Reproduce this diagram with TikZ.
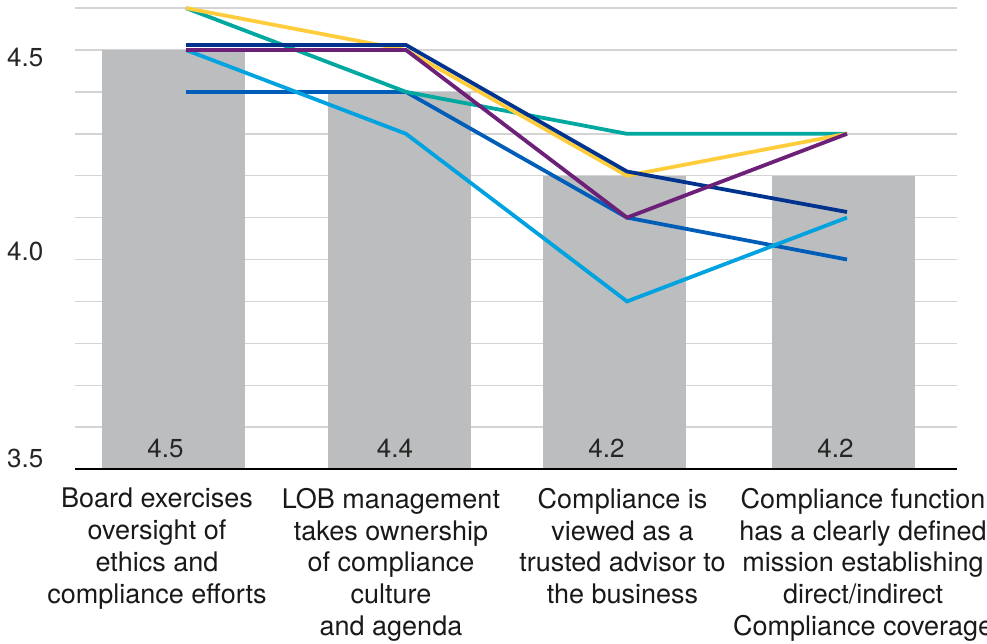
\documentclass[tikz,border=0pt]{standalone}
\usepackage{fontspec}
\setmainfont{TeX Gyre Heros}
\definecolor{navy}{HTML}{00338D}
\definecolor{midblue}{HTML}{005EB8}
\definecolor{lightblue}{HTML}{00A3E0}
\definecolor{kpurple}{HTML}{6D2077}
\definecolor{kteal}{HTML}{00A8A0}
\definecolor{kyellow}{HTML}{FFCD3C}
\definecolor{bargray}{HTML}{BCBDBF}
\definecolor{gridgray}{HTML}{D4D4D4}
\tikzset{
  gridline/.style={draw=gridgray, line width=1.4pt},
  barbox/.style={fill=bargray, draw=none},
  series/.style={line width=3.8pt, line join=miter},
  ticklabel/.style={anchor=base west, inner sep=0pt, font=\fontsize{26}{30}\selectfont, text=black!85},
  vallabel/.style={anchor=base, inner sep=0pt, font=\fontsize{26}{30}\selectfont, text=black!85},
  catlabel/.style={anchor=north, inner sep=0pt, align=center, font=\fontsize{27}{31.8}\selectfont, text=black!90},
}
\begin{document}
\begin{tikzpicture}[x=1pt,y=-1pt]
\useasboundingbox (0,0) rectangle (987,643);
% gridlines
\foreach \yy in {8.1,50,91.9,133.8,175.7,217.6,259.5,301.4,343.3,385.2,427.1}
  \draw[gridline] (75,\yy) -- (957,\yy);
% bars
\path[barbox] (102,50) rectangle (245,469);
\path[barbox] (328,91.9) rectangle (471,469);
\path[barbox] (543,175.7) rectangle (686,469);
\path[barbox] (772,175.7) rectangle (915,469);
% axis
\draw[black, line width=1.5pt] (75,469) -- (957,469);
% y labels
\node[ticklabel] (y45) at (7,66) {4.5};
\node[ticklabel] (y40) at (7,260) {4.0};
\node[ticklabel] (y35) at (7,467) {3.5};
% bar values
\node[vallabel] (v1) at (165.5,457) {4.5};
\node[vallabel] (v2) at (395,457) {4.4};
\node[vallabel] (v3) at (606.5,457) {4.2};
\node[vallabel] (v4) at (835.5,457) {4.2};
% series
\draw[series, midblue] (186,91.9) -- (406,91.9) -- (627,217.6) -- (847,259.5);
\draw[series, lightblue] (186,50) -- (406,133.8) -- (627,301.4) -- (847,217.6);
\draw[series, kteal] (186,8.1) -- (406,91.9) -- (627,133.8) -- (847,133.8);
\draw[series, kyellow] (186,8.1) -- (406,50) -- (627,175.7) -- (847,133.8);
\draw[series, navy] (186,45) -- (406,45) -- (627,171.5) -- (847,212);
\draw[series, kpurple] (186,50) -- (406,50) -- (627,217.6) -- (847,133.8);
% category labels
\node[catlabel] (c1) at (157,488) {Board exercises\\oversight of\\ethics and\\compliance efforts};
\node[catlabel] (c2) at (391,488) {LOB management\\takes ownership\\of compliance\\culture\\and agenda};
\node[catlabel] (c3) at (622.5,488) {Compliance is\\viewed as a\\trusted advisor to\\the business};
\node[catlabel] (c4) at (863,488) {Compliance function\\has a clearly defined\\mission establishing\\direct/indirect\\Compliance coverage};
\end{tikzpicture}
\end{document}
